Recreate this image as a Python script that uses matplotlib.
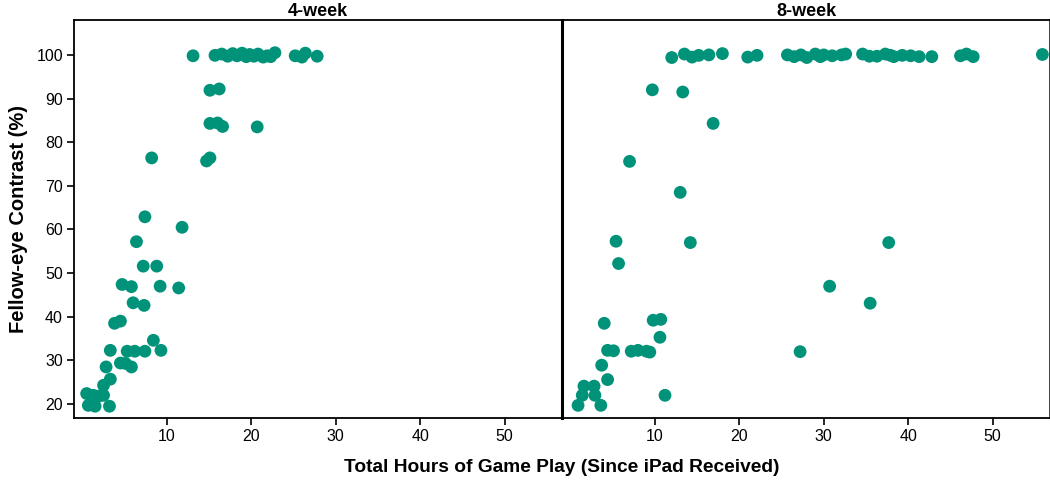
import numpy as np
import matplotlib.pyplot as plt

plt.rcParams['font.family'] = ['Liberation Sans', 'DejaVu Sans']

# 4-week panel
hours_4wk = [13.1, 15.7, 16.5, 17.2, 17.8, 18.3, 18.9, 19.4, 19.8, 20.3, 20.8, 21.4,
             21.9, 22.3, 22.8, 25.2, 26.0, 26.4, 27.8,
             15.1, 16.2,
             15.1, 16.0, 16.6, 20.7,
             8.2, 14.7, 15.1,
             7.4, 11.8, 6.4, 7.2, 8.8,
             4.7, 5.8, 9.2, 11.4, 6.0, 7.3, 3.8, 4.5,
             8.4, 3.3, 5.3, 6.2, 7.4, 9.3,
             4.5, 5.1, 5.8, 2.8, 3.3, 2.5,
             0.5, 1.3, 2.5, 1.9, 0.7, 1.5, 3.2]
contrast_4wk = [99.8, 99.9, 100.2, 99.7, 100.3, 99.8, 100.4, 99.6, 100.1, 99.7, 100.2, 99.5,
                99.8, 99.6, 100.5, 99.8, 99.5, 100.4, 99.7,
                91.9, 92.2,
                84.3, 84.4, 83.6, 83.5,
                76.4, 75.7, 76.4,
                62.9, 60.5, 57.2, 51.6, 51.6,
                47.4, 46.9, 47.0, 46.6, 43.2, 42.6, 38.5, 39.0,
                34.6, 32.3, 32.1, 32.1, 32.1, 32.3,
                29.4, 29.3, 28.5, 28.5, 25.7, 24.3,
                22.4, 22.0, 22.0, 21.8, 19.7, 19.5, 19.5]

# 8-week panel
hours_8wk = [12.0, 13.5, 14.4, 15.2, 16.4, 18.0, 21.0, 22.1,
             25.7, 26.5, 27.3, 28.0, 29.0, 29.6, 30.0, 31.0, 32.1, 32.6,
             34.6, 35.4, 36.3, 37.3, 37.9, 38.3, 39.3, 40.3, 41.3, 42.8,
             46.2, 46.9, 47.7, 55.9,
             9.7, 13.3, 16.9, 7.0, 13.0,
             5.4, 14.2, 5.7, 37.7, 30.7, 35.5,
             4.0, 9.8, 10.7, 10.6,
             4.4, 5.1, 7.2, 8.0, 9.0, 9.4, 27.2,
             3.7, 4.4, 1.6, 2.8, 1.4, 2.9, 0.9, 3.6, 11.2]
contrast_8wk = [99.4, 100.2, 99.5, 99.9, 100.0, 100.3, 99.5, 99.9,
                100.0, 99.6, 100.0, 99.4, 100.2, 99.6, 100.0, 99.8, 100.0, 100.2,
                100.2, 99.7, 99.7, 100.2, 99.9, 99.6, 99.9, 99.8, 99.6, 99.6,
                99.8, 100.2, 99.6, 100.1,
                92.0, 91.5, 84.3, 75.6, 68.5,
                57.3, 57.0, 52.2, 57.0, 47.0, 43.1,
                38.5, 39.2, 39.4, 35.3,
                32.3, 32.2, 32.1, 32.3, 32.1, 31.9, 32.0,
                28.9, 25.6, 24.1, 24.1, 22.0, 22.0, 19.7, 19.7, 22.0]

panels = [('4-week', hours_4wk, contrast_4wk), ('8-week', hours_8wk, contrast_8wk)]
xticks = [10, 20, 30, 40, 50]
yticks = [20, 30, 40, 50, 60, 70, 80, 90, 100]

fig = plt.figure(figsize=(10.5, 4.82), dpi=100)
w = 488 / 1050
axes = [fig.add_axes([74 / 1050, 1 - 418 / 482, w, 398 / 482]),
        fig.add_axes([74 / 1050 + w, 1 - 418 / 482, w, 398 / 482])]

for i, (ax, (title, x, y)) in enumerate(zip(axes, panels)):
    ax.scatter(x, y, s=85, color='#00937A', edgecolors='none', zorder=3)
    ax.set_xlim(-1.0, 56.8)
    ax.set_ylim(16.8, 108)
    ax.set_xticks(xticks)
    ax.set_yticks(yticks)
    ax.tick_params(direction='out', length=5, width=1.2, labelsize=11.5, pad=3)
    for sp in ax.spines.values():
        sp.set_linewidth(1.3)
    ax.set_title(title, fontsize=13, fontweight='bold', pad=2)
    if i == 1:
        ax.tick_params(axis='y', left=False, labelleft=False)
        ax.spines['left'].set_linewidth(2.2)
        ax.spines['right'].set_color('#333333')

axes[0].set_ylabel('Fellow-eye Contrast (%)', fontsize=14.5, fontweight='bold', labelpad=6)
fig.text(0.535, 1 - 468 / 482, 'Total Hours of Game Play (Since iPad Received)',
         ha='center', va='center', fontsize=13.8, fontweight='bold')

fig.savefig('out.png', dpi=100)
